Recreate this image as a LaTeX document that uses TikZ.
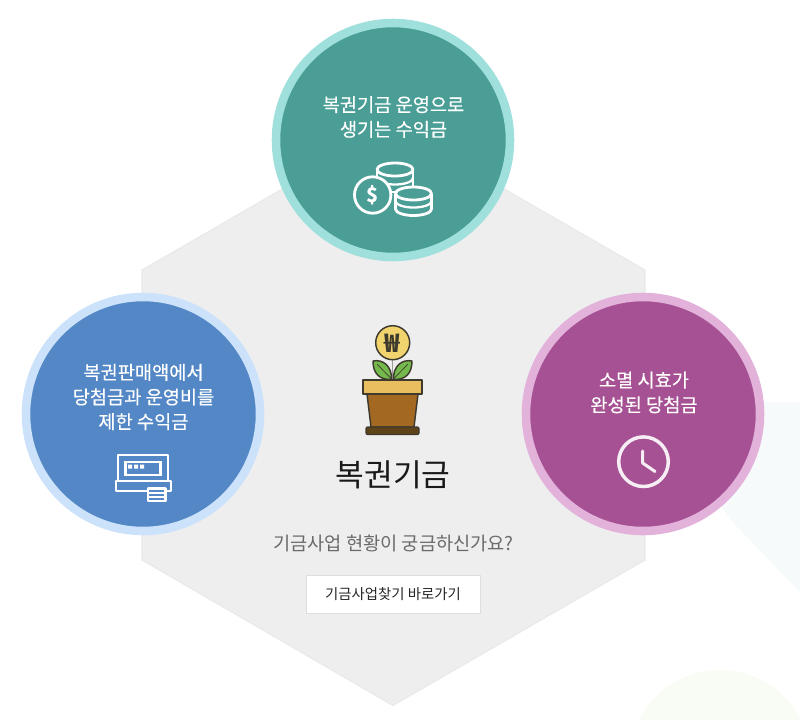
\documentclass[tikz,border=0pt]{standalone}
\usepackage{fontspec}
\setmainfont{Noto Sans CJK KR}
\newfontfamily\medfont[FakeBold=0.35]{Noto Sans CJK KR}
\definecolor{hexfill}{HTML}{EEEEEE}
\definecolor{hexline}{HTML}{E9E9E9}
\definecolor{btnline}{HTML}{DEDEDE}
\definecolor{tealin}{HTML}{4A9E96}
\definecolor{tealout}{HTML}{A0E0DC}
\definecolor{bluein}{HTML}{5387C5}
\definecolor{blueout}{HTML}{CCE2FA}
\definecolor{purin}{HTML}{A65193}
\definecolor{purout}{HTML}{E2B2DA}
\definecolor{palea}{HTML}{F6FAFA}
\definecolor{paleb}{HTML}{F9FBF5}
\definecolor{coinfill}{HTML}{F2D46E}
\definecolor{rimfill}{HTML}{E9BE5E}
\definecolor{potfill}{HTML}{A36821}
\definecolor{basefill}{HTML}{5F4318}
\definecolor{leaffill}{HTML}{74B94B}
\definecolor{inkdark}{HTML}{3E3A2E}
\definecolor{subgray}{HTML}{6A6A6A}
\tikzset{
  disc/.style={circle,draw=#1,line width=6.4pt,minimum size=175.5pt,inner sep=0pt},
  disclabel/.style={text=white,font=\medfont\fontsize{14pt}{18.5pt}\selectfont,align=center,inner sep=0pt},
  icon/.style={draw=white,line width=2.1pt,line join=round},
  iconthin/.style={draw=white,line width=1.7pt},
  plant/.style={draw=inkdark,line width=1.1pt,line join=round}
}
\begin{document}
\begin{tikzpicture}[x=0.75pt,y=-0.75pt]
\useasboundingbox (0,0) rectangle (800,719);
% pale background shapes
\begin{scope}
\clip (0,0) rectangle (800,719);
\fill[palea,rounded corners=32pt] (700,402) -- (705,493) -- (900,697) -- (900,402) -- cycle;
\fill[paleb] (720,760) circle (90);
\end{scope}
% hexagon
\filldraw[fill=hexfill,draw=hexline,line width=0.8pt] (393,125) -- (645,270) -- (645,560) -- (393,705.5) -- (142,560) -- (142,270) -- cycle;
% circles
\node[disc=tealout,fill=tealin] (topc) at (393,140) {};
\node[disc=blueout,fill=bluein] (leftc) at (143,414) {};
\node[disc=purout,fill=purin] (rightc) at (643,414) {};
% labels
\node[disclabel] (toplabel) at (393.5,117) {복권기금 운영으로\\생기는 수익금};
\node[disclabel] (leftlabel) at (143.5,397) {복권판매액에서\\당첨금과 운영비를\\제한 수익금};
\node[disclabel] (rightlabel) at (644,392.5) {소멸 시효가\\완성된 당첨금};
% coin stack icon: back stack
\draw[icon,fill=tealin] (377,169.5) -- (377,192) -- (413,192) -- (413,169.5);
\draw[icon,fill=tealin] (395,169.5) ellipse (18 and 6.5);
\draw[iconthin] (377,178) arc[start angle=180,end angle=0,x radius=18,y radius=6.5];
% front stack
\draw[icon,fill=tealin] (395.5,193.5) -- (395.5,209) arc[start angle=180,end angle=0,x radius=18,y radius=6.5] -- (431.5,193.5);
\draw[icon,fill=tealin] (413.5,193.5) ellipse (18 and 6.5);
\draw[iconthin] (395.5,201) arc[start angle=180,end angle=0,x radius=18,y radius=6.5];
% coin
\draw[icon,fill=tealin] (372.7,195) circle (18.2);
\node[text=white,font=\bfseries\fontsize{15pt}{15pt}\selectfont,inner sep=0pt] (dollar) at (372.7,195) {\$};
% POS icon
\draw[icon] (118,481) -- (118,455) -- (168,455) -- (168,481);
\draw[iconthin] (125.5,462) rectangle (160.5,475);
\fill[white] (128,464.5) rectangle (132,468.5) (134,464.5) rectangle (138,468.5) (140,464.5) rectangle (144,468.5);
\draw[icon] (116,481) rectangle (171,491);
\draw[icon,fill=bluein] (148,488.5) rectangle (165.5,501);
\draw[iconthin] (148,493) -- (165.5,493) (148,497) -- (165.5,497);
% clock icon
\draw[draw=white!90!purin,line width=2.6pt] (643.5,461.7) circle (24.8);
\draw[draw=white!90!purin,line width=2.3pt,line cap=round,line join=round] (642.7,451) -- (642.7,463) -- (655,471.5);
% plant
\draw[draw=inkdark!50,line width=1pt] (392.5,358) -- (392.5,380);
\draw[plant,fill=coinfill] (392.7,342.7) circle (17);
\node[text=inkdark,font=\bfseries\fontsize{19pt}{19pt}\selectfont,inner sep=0pt] (won) at (392.7,343) {₩};
\draw[plant,fill=leaffill] (391.5,379.5) .. controls (380,380) and (373,374) .. (373,361) .. controls (383,359) and (392,366) .. (391.5,379.5) -- cycle;
\draw[plant,fill=leaffill] (393.5,379.5) .. controls (405,380) and (412,374) .. (412,361) .. controls (402,359) and (393,366) .. (393.5,379.5) -- cycle;
\draw[draw=inkdark,line width=0.5pt] (391.5,379) -- (377,364) (393.5,379) -- (408,364);
\draw[plant,fill=potfill] (367,394) -- (418,394) -- (414,427) -- (371,427) -- cycle;
\draw[plant,fill=rimfill] (363,380) rectangle (422,394);
\draw[plant,fill=basefill,rounded corners=1.5pt] (366,427) rectangle (419,434.5);
% centre texts
\node[font=\fontsize{23.4pt}{24pt}\selectfont,text=black!90,inner sep=0pt] (title) at (393,475) {복권기금};
\node[font=\fontsize{14pt}{16pt}\selectfont,text=subgray,inner sep=0pt] (sub) at (393.5,543) {기금사업 현황이 궁금하신가요?};
\node[draw=btnline,fill=white,line width=0.6pt,minimum width=130.5pt,minimum height=28.5pt,inner sep=0pt,font=\fontsize{10.8pt}{12pt}\selectfont,text=black!85] (btn) at (393,594) {기금사업찾기 바로가기};
\end{tikzpicture}
\end{document}
